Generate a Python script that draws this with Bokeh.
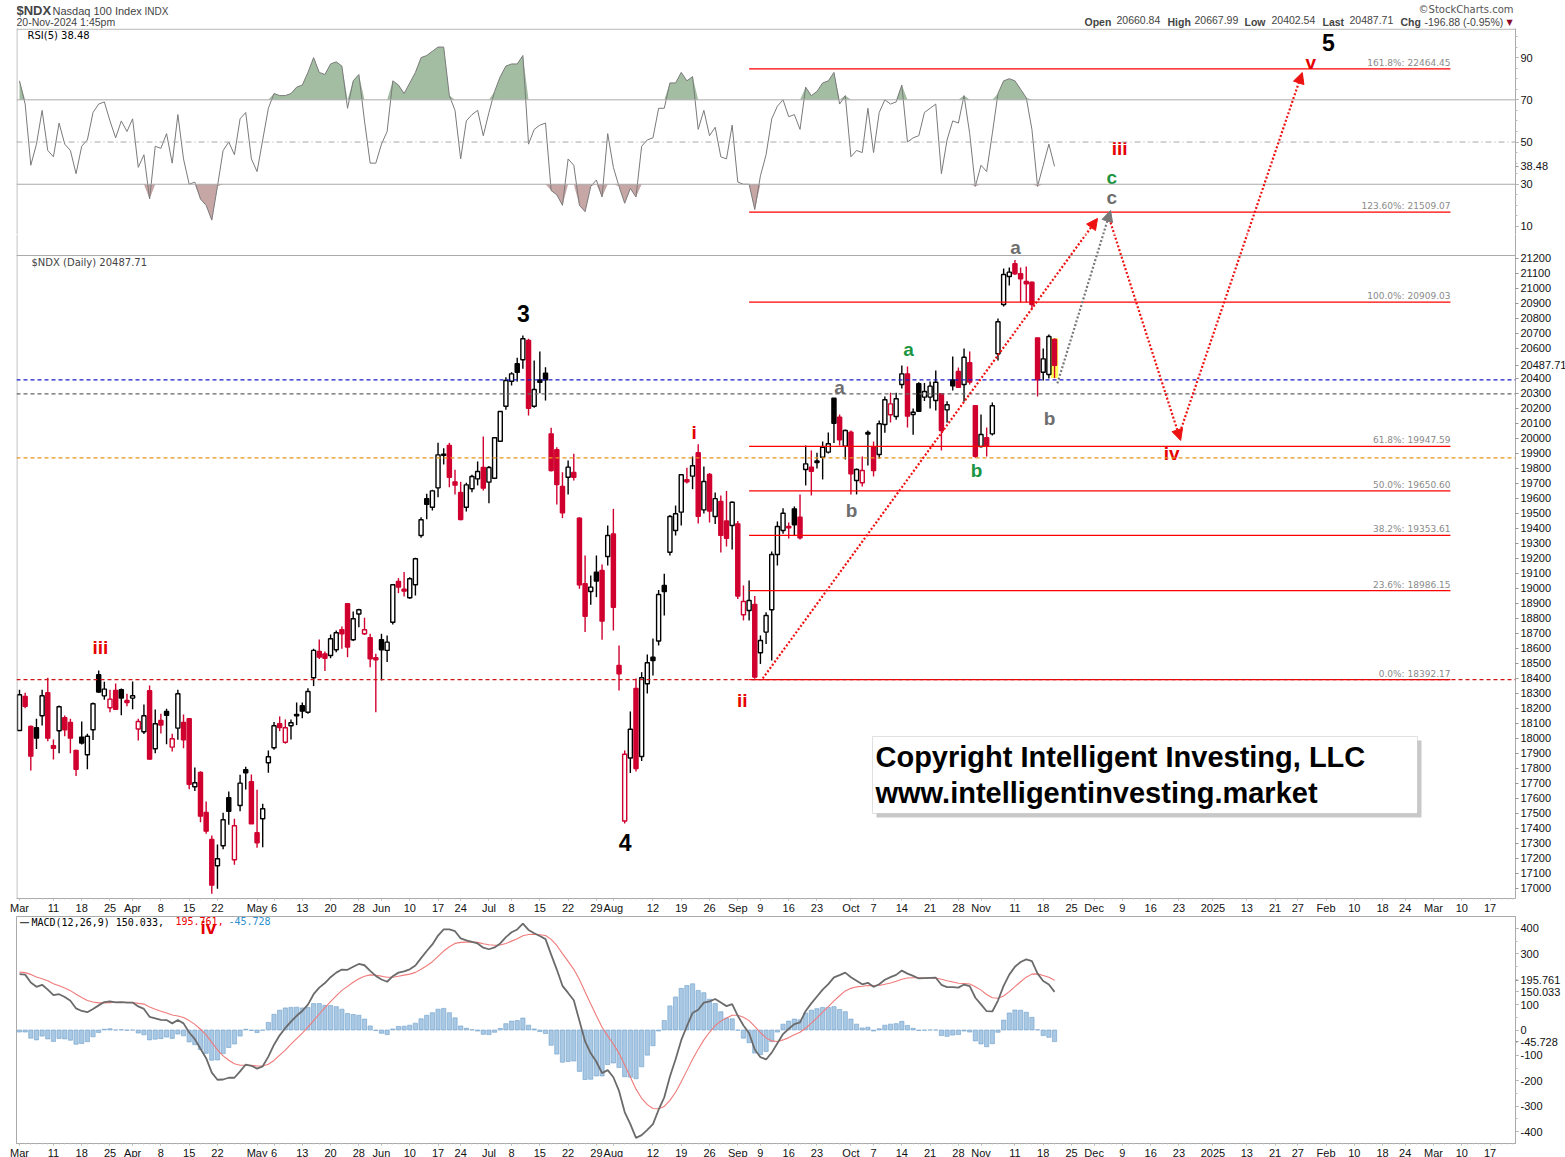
import numpy as np
import pandas as pd
from bokeh.plotting import figure
from bokeh.layouts import column
from bokeh.models import (Range1d, FixedTicker, Label, Span, Arrow, NormalHead,
                          BoxAnnotation, ColumnDataSource)
from bokeh.core.properties import value
from bokeh.embed import file_html
from bokeh.resources import INLINE

# ---------------- calendar (trading days) ----------------
HOLIDAYS = ["2024-03-29", "2024-05-27", "2024-06-19", "2024-07-04", "2024-09-02",
            "2024-11-28", "2024-12-25", "2025-01-01", "2025-01-09", "2025-01-20",
            "2025-02-17"]
cal = pd.bdate_range("2024-03-01", "2025-03-31")
cal = cal[~cal.isin(pd.to_datetime(HOLIDAYS))]
DAY = {d.strftime("%Y-%m-%d"): i for i, d in enumerate(cal)}

# ---------------- daily OHLC, 1-Mar-2024 .. 20-Nov-2024 ----------------
OPEN = [18053, 18280, 18080, 18071, 18151, 18305, 17951, 18051, 18138, 18107,
        17920, 18009, 17891, 18058, 18425, 18284, 18205, 18320, 18325, 18253,
        18269, 18063, 18045, 18318, 17931, 18120, 18180, 17942, 18069, 18107,
        18131, 17678, 17773, 17507, 17327, 17151, 17285, 17605, 17191, 17553,
        17791, 17711, 17371, 17465, 17838, 17938, 18098, 17975, 18085, 18160,
        18218, 18175, 18405, 18580, 18564, 18553, 18591, 18725, 18898, 18658,
        18830, 18698, 18671, 18538, 18658, 18587, 18775, 19047, 18995, 18938,
        19025, 19353, 19598, 19542, 19671, 19888, 19953, 19711, 19640, 19542,
        19665, 19731, 19807, 19709, 19735, 19982, 20215, 20382, 20498, 20525,
        20653, 20215, 20391, 20435, 20031, 19925, 19680, 19742, 19773, 19469,
        19031, 18980, 19109, 19120, 19213, 19364, 18487, 17450, 17870, 18333,
        17880, 18365, 18542, 18650, 19020, 19242, 19387, 19509, 19725, 19749,
        19905, 19524, 19760, 19480, 19580, 19450, 19420, 19431, 18825, 18853,
        18893, 18571, 18709, 18858, 19227, 19387, 19413, 19531, 19475, 19793,
        19809, 19850, 19875, 19909, 20269, 20142, 19949, 20042, 19720, 19705,
        20040, 19942, 19893, 20093, 20158, 20147, 20360, 20431, 20160, 20365,
        20276, 20276, 20253, 20298, 20191, 20390, 20447, 20360, 20505, 20218,
        19947, 20005, 20031, 20565, 20893, 21080, 21165, 21098, 21047, 21042,
        20671, 20442, 20427, 20660.84]
HIGH = [18325, 18305, 18087, 18131, 18325, 18405, 17993, 18220, 18153, 18131,
        17925, 18113, 18031, 18240, 18453, 18378, 18325, 18367, 18333, 18298,
        18380, 18131, 18227, 18353, 18193, 18165, 18198, 18031, 18325, 18160,
        18135, 17807, 17782, 17580, 17353, 17293, 17505, 17647, 17465, 17758,
        17811, 17760, 17658, 17565, 17920, 18109, 18147, 18127, 18127, 18240,
        18240, 18335, 18598, 18660, 18580, 18693, 18720, 18747, 18898, 18847,
        18865, 18805, 18698, 18565, 18698, 18687, 19025, 19069, 19109, 19075,
        19205, 19475, 19631, 19658, 19971, 19935, 19971, 19791, 19711, 19705,
        19758, 19847, 20013, 19816, 20005, 20180, 20409, 20442, 20538, 20687,
        20665, 20520, 20580, 20475, 20071, 19942, 19775, 19853, 19898, 19475,
        19220, 19087, 19220, 19160, 19420, 19531, 18620, 17920, 18180, 18400,
        18442, 18560, 18667, 18990, 19098, 19490, 19553, 19758, 19805, 19880,
        19962, 19813, 19770, 19640, 19620, 19650, 19580, 19450, 19020, 19053,
        18950, 18687, 18842, 19247, 19447, 19535, 19440, 19547, 19627, 19953,
        19920, 19905, 19980, 20040, 20269, 20160, 20060, 20053, 19800, 19880,
        20053, 19980, 20120, 20280, 20305, 20305, 20487, 20480, 20200, 20375,
        20370, 20380, 20453, 20298, 20248, 20547, 20473, 20600, 20580, 20218,
        20160, 20073, 20240, 20800, 21133, 21140, 21190, 21140, 21147, 21045,
        20671, 20600, 20693, 20667.99]
LOW = [18049, 18202, 17787, 17929, 18087, 17982, 17860, 17902, 18015, 17902,
       17749, 17960, 17795, 17989, 18305, 18258, 18175, 18195, 18155, 18215,
       18195, 17987, 18029, 17860, 17902, 18033, 17962, 17913, 17991, 17935,
       17662, 17649, 17442, 17365, 16965, 16998, 17262, 17425, 17158, 17515,
       17660, 17431, 17271, 17275, 17771, 17925, 18049, 17965, 17993, 18089,
       18135, 18165, 18349, 18530, 18449, 18535, 18575, 18598, 18542, 18649,
       18742, 18690, 18475, 18175, 18387, 18509, 18760, 18969, 18947, 18931,
       18953, 19338, 19462, 19520, 19609, 19827, 19675, 19627, 19455, 19513,
       19642, 19687, 19653, 19569, 19729, 19982, 20191, 20353, 20380, 20465,
       20153, 20205, 20302, 20253, 19780, 19560, 19469, 19627, 19720, 18998,
       18709, 18891, 18942, 18658, 19153, 18720, 18320, 17433, 17770, 17780,
       17850, 18300, 18420, 18620, 18820, 19220, 19353, 19420, 19700, 19662,
       19433, 19500, 19440, 19430, 19240, 19280, 19260, 18930, 18787, 18787,
       18398, 18497, 18629, 18520, 19153, 19365, 19333, 19353, 19327, 19687,
       19620, 19800, 19727, 19900, 19970, 19953, 19860, 19627, 19627, 19680,
       19820, 19747, 19867, 20038, 20107, 20125, 20333, 20073, 20025, 20180,
       20250, 20200, 20187, 19920, 20107, 20320, 20340, 20247, 20360, 19870,
       19940, 19880, 20020, 20520, 20880, 21020, 21090, 20907, 20907, 20860,
       20280, 20387, 20400, 20402.54]
CLOSE = [18291, 18215, 17882, 18002, 18285, 18002, 17935, 18211, 18058, 18002,
         17795, 17969, 18015, 18231, 18309, 18329, 18262, 18195, 18269, 18240,
         18285, 18113, 18151, 17862, 18098, 18089, 18155, 17998, 18298, 17991,
         17695, 17705, 17482, 17382, 17022, 17198, 17458, 17515, 17418, 17702,
         17771, 17431, 17305, 17531, 17878, 18085, 18073, 18071, 18105, 18151,
         18182, 18313, 18587, 18542, 18535, 18665, 18705, 18698, 18609, 18798,
         18858, 18725, 18531, 18525, 18591, 18642, 19025, 19009, 18982, 19065,
         19198, 19458, 19562, 19651, 19891, 19896, 19742, 19689, 19460, 19691,
         19747, 19780, 19669, 19807, 20005, 20180, 20387, 20431, 20442, 20665,
         20202, 20327, 20375, 20391, 19787, 19693, 19505, 19809, 19742, 19025,
         18815, 19009, 19049, 18782, 19353, 18875, 18431, 17895, 18061, 17800,
         18405, 18505, 18520, 18960, 18980, 19480, 19498, 19758, 19711, 19818,
         19482, 19713, 19516, 19599, 19354, 19335, 19575, 18949, 18913, 18920,
         18409, 18653, 18820, 19227, 19413, 19502, 19404, 19425, 19338, 19831,
         19782, 19840, 19942, 19965, 20102, 19991, 20053, 19765, 19793, 19787,
         20030, 19787, 20098, 20258, 20231, 20265, 20431, 20149, 20175, 20182,
         20313, 20349, 20375, 20053, 20225, 20352, 20342, 20542, 20376, 19882,
         20027, 19953, 20218, 20778, 21093, 21109, 21098, 21065, 21031, 20893,
         20391, 20531, 20680, 20487.71]

# ---------------- RSI(5) panel values ----------------
RSI = [79, 68, 39, 49, 65, 46, 43, 59, 49, 46, 35, 48, 51, 64, 68, 69, 60, 52, 60, 55,
       61, 38, 44, 23, 48, 47, 54, 40, 63, 42, 30, 31, 23, 20, 13, 29, 46, 50, 44, 61,
       64, 42, 36, 51, 66, 73, 72, 72, 73, 76, 77, 83, 90, 83, 82, 87, 88, 86, 66, 79,
       82, 60, 40, 40, 49, 55, 79, 77, 73, 78, 83, 90, 91, 93, 95, 95, 72, 65, 42, 60,
       63, 65, 53, 64, 74, 81, 86, 87, 87, 91, 49, 56, 58, 59, 27, 25, 20, 42, 39, 20,
       17, 29, 32, 24, 54, 38, 29, 21, 28, 24, 48, 51, 52, 66, 66, 78, 78, 83, 79, 81,
       56, 65, 53, 57, 43, 42, 58, 31, 30, 30, 18, 34, 44, 61, 67, 70, 62, 63, 56, 76,
       72, 74, 78, 79, 83, 68, 72, 43, 46, 45, 66, 45, 64, 70, 68, 69, 77, 50, 52, 53,
       64, 66, 68, 35, 51, 60, 59, 72, 54, 29, 39, 36, 54, 73, 79, 80, 79, 75, 71, 56,
       29, 39, 49, 38.48]

# ---------------- MACD(12,26,9) panel values ----------------
MACD = [220, 218, 187, 170, 178, 159, 137, 141, 130, 115, 85, 75, 70, 83, 97, 110, 113,
        109, 110, 108, 108, 93, 83, 52, 46, 40, 39, 26, 39, 26, -10, -36, -74, -111,
        -168, -196, -195, -188, -188, -163, -136, -141, -152, -143, -105, -58, -21, 8,
        33, 56, 75, 100, 141, 167, 185, 208, 226, 238, 237, 249, 260, 255, 233, 213,
        199, 190, 212, 226, 231, 239, 254, 283, 311, 337, 372, 396, 396, 389, 361, 353,
        347, 341, 324, 318, 325, 341, 366, 385, 396, 419, 394, 381, 370, 358, 297, 238,
        174, 146, 117, 36, -45, -92, -125, -170, -158, -186, -240, -323, -371, -425,
        -414, -393, -371, -314, -265, -183, -115, -40, 15, 67, 80, 108, 113, 122, 108,
        94, 102, 56, 18, -13, -77, -107, -116, -89, -52, -16, 5, 23, 30, 75, 105, 132,
        159, 181, 207, 216, 226, 208, 194, 180, 186, 170, 180, 198, 208, 217, 234, 222,
        213, 203, 204, 205, 206, 178, 169, 169, 167, 179, 173, 127, 101, 74, 73, 116,
        174, 218, 249, 268, 278, 271, 222, 193, 179, 150.033]
SIGNAL = [228, 226, 219, 209, 202, 194, 182, 174, 165, 155, 141, 128, 116, 110, 107, 107,
          108, 109, 109, 109, 108, 105, 102, 91, 82, 74, 67, 59, 55, 49, 37, 22, 3, -19,
          -49, -78, -102, -119, -133, -139, -139, -139, -142, -142, -135, -120, -99, -79,
          -56, -34, -12, 11, 37, 63, 88, 112, 134, 156, 172, 188, 202, 212, 217, 215,
          212, 208, 208, 212, 216, 220, 227, 239, 253, 269, 290, 311, 328, 341, 345, 346,
          346, 345, 340, 336, 334, 335, 341, 350, 359, 371, 376, 377, 375, 372, 357, 333,
          301, 270, 239, 199, 150, 102, 56, 11, -23, -55, -92, -138, -185, -233, -269,
          -294, -309, -310, -301, -277, -245, -204, -160, -115, -76, -39, -9, 17, 35, 47,
          58, 58, 50, 37, 14, -10, -31, -43, -45, -39, -30, -19, -9, 7, 27, 48, 70, 92,
          115, 135, 154, 164, 170, 172, 175, 174, 175, 180, 185, 192, 200, 205, 206, 206,
          205, 205, 205, 200, 194, 189, 184, 183, 181, 170, 157, 140, 127, 125, 134, 151,
          171, 190, 208, 220, 221, 215, 208, 195.761]
HIST = [-8, -8, -32, -39, -24, -35, -45, -33, -35, -40, -56, -53, -46, -27, -10, 3, 5, 0,
        1, -1, 0, -12, -19, -39, -36, -34, -28, -33, -16, -23, -47, -58, -77, -92, -119,
        -118, -93, -69, -55, -24, 3, -2, -10, -1, 30, 62, 78, 87, 89, 90, 87, 89, 104,
        104, 97, 96, 92, 82, 65, 61, 58, 43, 16, -2, -13, -18, 4, 14, 15, 19, 27, 44, 58,
        68, 82, 85, 68, 48, 16, 7, 1, -4, -17, -18, -9, 6, 25, 35, 37, 47, 19, 4, -6,
        -14, -60, -95, -127, -124, -122, -163, -195, -194, -181, -181, -136, -130, -148,
        -184, -186, -192, -145, -99, -62, -4, 37, 95, 130, 164, 175, 182, 156, 147, 121,
        104, 72, 47, 44, -1, -32, -50, -91, -97, -85, -46, -8, 23, 35, 43, 40, 67, 78,
        84, 89, 89, 92, 81, 72, 43, 23, 8, 11, -4, 5, 19, 23, 25, 34, 18, 7, -2, -1, 0,
        0, -22, -25, -20, -18, -4, -8, -43, -55, -66, -54, -9, 39, 67, 79, 78, 70, 50, 1,
        -22, -29, -45.728]

# ---------------- axis ticks ----------------
TICK_DATES = ["2024-03-01", "2024-03-11", "2024-03-18", "2024-03-25", "2024-04-01", "2024-04-08",
              "2024-04-15", "2024-04-22", "2024-05-01", "2024-05-06", "2024-05-13", "2024-05-20",
              "2024-05-28", "2024-06-03", "2024-06-10", "2024-06-17", "2024-06-24", "2024-07-01",
              "2024-07-08", "2024-07-15", "2024-07-22", "2024-07-29", "2024-08-01", "2024-08-12",
              "2024-08-19", "2024-08-26", "2024-09-03", "2024-09-09", "2024-09-16", "2024-09-23",
              "2024-10-01", "2024-10-07", "2024-10-14", "2024-10-21", "2024-10-28", "2024-11-01",
              "2024-11-11", "2024-11-18", "2024-11-25", "2024-12-02", "2024-12-09", "2024-12-16",
              "2024-12-23", "2025-01-02", "2025-01-13", "2025-01-21", "2025-01-27", "2025-02-03",
              "2025-02-10", "2025-02-18", "2025-02-24", "2025-03-03", "2025-03-10", "2025-03-17"]
TICK_LABELS = ["Mar", "11", "18", "25", "Apr", "8", "15", "22", "May", "6", "13", "20", "28",
               "Jun", "10", "17", "24", "Jul", "8", "15", "22", "29", "Aug", "12", "19", "26",
               "Sep", "9", "16", "23", "Oct", "7", "14", "21", "28", "Nov", "11", "18", "25",
               "Dec", "9", "16", "23", "2025", "13", "21", "27", "Feb", "10", "18", "24",
               "Mar", "10", "17"]
PRICE_TICKS = [v for v in range(17000, 21201, 100) if v != 20500]
RSI_TICKS = [10, 30, 50, 70, 90]
MACD_TICKS = [-400, -300, -200, -100, 0, 100, 300, 400]
LAST_RSI_TXT, LAST_PRICE_TXT = "38.48", "20487.71"
LAST_MACD = [195.761, 150.033, -45.728]

# ---------------- annotations ----------------
FIB_PCT = ["161.8%", "123.60%", "100.0%", "61.8%", "50.0%", "38.2%", "23.6%", "0.0%"]
FIB_LEVEL = [22464.45, 21509.07, 20909.03, 19947.59, 19650.60, 19353.61, 18986.15, 18392.17]
FIB_FROM, FIB_TO = "2024-09-05", "2025-03-06"
REF_LEVELS = [20391, 20298, 19871, 18392.17]
REF_COLORS = ["#1a1acc", "#666666", "#e8961e", "#d01414"]

WAVE_TEXT = ["3", "4", "5", "iii", "iv", "i", "ii", "iii", "iv", "v",
             "a", "b", "a", "b", "c", "a", "b", "c"]
WAVE_X = [89.1, 107.1, 231.4, 14.3, 33.4, 119.3, 127.8, 194.5, 203.7, 228.3,
          145.0, 147.1, 176.1, 182.1, 193.1, 157.2, 169.2, 193.1]
WAVE_Y = [20833, 17306, 22640, 18607, 16760, 20040, 18253, 21933, 19900, 22507,
          20340, 19520, 21273, 20133, 21607, 20593, 19787, 21740]
WAVE_COLOR = ["#000000"] * 3 + ["#e60000"] * 7 + ["#6e6e6e"] * 5 + ["#1a9641"] * 3
WAVE_SIZE = ["23px"] * 3 + ["19px"] * 15

ARROW_X0 = [131.4, 183.5, 192.9, 205.4]
ARROW_Y0 = [18400, 20367, 21440, 20067]
ARROW_X1 = [190.6, 192.9, 205.3, 226.8]
ARROW_Y1 = [21467, 21520, 19987, 22440]
ARROW_COLOR = ["#ee1111", "#777777", "#ee1111", "#ee1111"]

# ---------------- geometry ----------------
FW = 1499
XR = Range1d(-0.53, 264.5)
RSI_RANGE = (6.19, 103.8)          # RSI frame: page rows 28..234
RANGE_PRICE_RSI = (21360, 22733)   # price scale continued over the RSI frame
RANGE_PRICE_MAIN = (16933, 21360)  # price frame: page rows 234..898 (panel edge at 21220)
RANGE_PRICE_MACD = (15320, 16833)
PANEL_EDGE = 21220
AX_FONT = "Liberation Sans"
BORDER = "#aaaaaa"


def make_fig(h, yr, xaxis=True, yaxis=True):
    f = figure(frame_width=FW, frame_height=h, x_range=XR, y_range=Range1d(*yr),
               output_backend="svg", toolbar_location=None,
               x_axis_location="below" if xaxis else None,
               y_axis_location="right" if yaxis else None,
               min_border_left=16, min_border_right=50, min_border_top=0,
               min_border_bottom=0)
    f.outline_line_color = BORDER
    f.grid.visible = False
    f.background_fill_color = "white"
    f.border_fill_color = "white"
    return f


def fmt(v):
    return f"{v:g}" if float(v).is_integer() else f"{v}"


def style_yaxis(ax, ticks, minor, extra_labels):
    allt = list(ticks) + [v for v, _ in extra_labels]
    ax.ticker = FixedTicker(ticks=allt, minor_ticks=minor)
    ov = {t: fmt(t) for t in ticks}
    ov.update({v: s for v, s in extra_labels})
    ax.major_label_overrides = ov
    ax.axis_line_color = BORDER
    ax.major_tick_line_color = "#999999"
    ax.major_tick_in = 0
    ax.major_tick_out = 3
    ax.minor_tick_line_color = "#bbbbbb"
    ax.minor_tick_in = 0
    ax.minor_tick_out = 2
    ax.major_label_text_font = AX_FONT
    ax.major_label_text_font_size = "11px"
    ax.major_label_text_color = "#111111"
    ax.major_label_standoff = 2


def style_xaxis(f):
    ax = f.xaxis[0]
    tix = [DAY[d] for d in TICK_DATES]
    ax.ticker = FixedTicker(ticks=tix, minor_ticks=list(range(0, 265)))
    ax.major_label_overrides = {t: lab for t, lab in zip(tix, TICK_LABELS)}
    ax.axis_line_color = BORDER
    ax.major_tick_line_color = BORDER
    ax.major_tick_in = 0
    ax.major_tick_out = 2
    ax.minor_tick_line_color = "#cccccc"
    ax.minor_tick_in = 0
    ax.minor_tick_out = 1
    ax.major_label_text_font = AX_FONT
    ax.major_label_text_font_size = "11px"
    ax.major_label_text_color = "#111111"
    ax.major_label_standoff = 1


def add_overlays(f, rname, lo, hi, arrows=True):
    kw = {} if rname == "default" else {"y_range_name": rname}
    x0 = DAY[FIB_FROM]
    x1 = DAY[FIB_TO]
    lv = [v for v in FIB_LEVEL if lo < v < hi]
    pc = [p for p, v in zip(FIB_PCT, FIB_LEVEL) if lo < v < hi]
    if lv:
        fib = ColumnDataSource(dict(x0=[x0] * len(lv), x1=[x1] * len(lv), y=lv,
                                    t=[f"{p}: {v:.2f}" for p, v in zip(pc, lv)]))
        f.segment(x0="x0", y0="y", x1="x1", y1="y", source=fib, line_color="#ff0000",
                  line_width=1.2, **kw)
        f.text(x="x1", y="y", text="t", source=fib, text_align="right",
               text_baseline="bottom", y_offset=-1, text_font=value("DejaVu Sans"),
               text_font_size="9px", text_color="#8a8a8a", **kw)
    if arrows:
        for xa, ya, xb, yb, col in zip(ARROW_X0, ARROW_Y0, ARROW_X1, ARROW_Y1, ARROW_COLOR):
            f.add_layout(Arrow(x_start=xa, y_start=ya, x_end=xb, y_end=yb, line_color=col,
                               line_width=2.2, line_dash="2 2",
                               end=NormalHead(size=11, fill_color=col, line_color=col),
                               **kw))
    sel = [i for i, y in enumerate(WAVE_Y) if lo < y < hi]
    if sel:
        wv = ColumnDataSource(dict(x=[WAVE_X[i] for i in sel], y=[WAVE_Y[i] for i in sel],
                                   t=[WAVE_TEXT[i] for i in sel],
                                   c=[WAVE_COLOR[i] for i in sel],
                                   s=[WAVE_SIZE[i] for i in sel]))
        f.text(x="x", y="y", text="t", source=wv, text_color="c", text_font_size="s",
               text_font=value("Liberation Sans"), text_font_style="bold",
               text_align="center", text_baseline="middle", **kw)


X = list(range(len(CLOSE)))

# ================= header strip =================
ph = make_fig(28, (0, 28), xaxis=False, yaxis=False)
ph.outline_line_color = None
hdr = dict(x_units="screen", y_units="screen", text_baseline="top")
ph.add_layout(Label(x=0, y=25.5, text="$NDX", text_font="Liberation Sans",
                    text_font_style="bold", text_font_size="13px", **hdr))
ph.add_layout(Label(x=36, y=24, text="Nasdaq 100 Index", text_font="Liberation Sans",
                    text_font_size="11px", **hdr))
ph.add_layout(Label(x=128, y=23, text="INDX", text_font="Liberation Sans",
                    text_font_size="10px", **hdr))
ph.add_layout(Label(x=0, y=12.2, text="20-Nov-2024 1:45pm", text_font="Liberation Sans",
                    text_font_size="10.5px", **hdr))
ph.add_layout(Label(x=1497, y=25, text="\u00a9StockCharts.com", text_align="right",
                    text_font="DejaVu Sans", text_font_size="10px", text_color="#555555",
                    **hdr))
OHLC_TXT = ["Open", "20660.84", "High", "20667.99", "Low", "20402.54", "Last", "20487.71",
            "Chg", "-196.88 (-0.95%)"]
OHLC_PX = [1084, 1116, 1167, 1194, 1244, 1271, 1322, 1349, 1400, 1424]
for i, (t, px) in enumerate(zip(OHLC_TXT, OHLC_PX)):
    ph.add_layout(Label(x=px - 16, y=12.2, text=t, text_font="Liberation Sans",
                        text_font_style="bold" if i % 2 == 0 else "normal",
                        text_font_size="10.5px", **hdr))
ph.add_layout(Label(x=1490, y=11, text="\u25bc", text_font="DejaVu Sans",
                    text_font_size="8px", text_color="#8b0a2a", **hdr))

# ================= RSI panel =================
prsi = make_fig(206, RSI_RANGE, xaxis=False)
prsi.outline_line_color = None
prsi.extra_y_ranges = {"price": Range1d(*RANGE_PRICE_RSI)}
style_yaxis(prsi.yaxis[0], RSI_TICKS, list(range(10, 101, 5)),
            [(float(LAST_RSI_TXT), LAST_RSI_TXT)])
prsi.add_layout(Span(location=103.5, dimension="width", line_color=BORDER, line_width=1))
prsi.add_layout(Span(location=-0.45, dimension="height", line_color=BORDER, line_width=1))
rs = np.array(RSI, dtype=float)
prsi.varea(x=X, y1=np.maximum(rs, 70), y2=70, fill_color="#a3bda3")
prsi.varea(x=X, y1=np.minimum(rs, 30), y2=30, fill_color="#c7a6a6")
for lv, dash in [(70, "solid"), (30, "solid"), (50, "6 3 1 3")]:
    prsi.add_layout(Span(location=lv, dimension="width", line_color=BORDER,
                         line_width=1, line_dash=dash))
prsi.line(X, RSI, line_color="#7a7a7a", line_width=1)
add_overlays(prsi, "price", *RANGE_PRICE_RSI)
prsi.add_layout(Label(x=11, y=205, x_units="screen", y_units="screen",
                      text="RSI(5) " + LAST_RSI_TXT, text_baseline="top",
                      text_font="DejaVu Sans", text_font_size="10px", text_color="#000000"))

# ================= price panel =================
pp = make_fig(664, RANGE_PRICE_MAIN)
pp.outline_line_color = None
style_yaxis(pp.yaxis[0], PRICE_TICKS, [], [(float(LAST_PRICE_TXT), LAST_PRICE_TXT)])
style_xaxis(pp)
pp.add_layout(Span(location=PANEL_EDGE, dimension="width", line_color=BORDER, line_width=1))
pp.add_layout(Span(location=-0.45, dimension="height", line_color=BORDER, line_width=1))
for lv, col in zip(REF_LEVELS, REF_COLORS):
    pp.add_layout(Span(location=lv, dimension="width", line_color=col, line_width=1.2,
                       line_dash="4 3"))
o, h, l, c = (np.array(a, dtype=float) for a in (OPEN, HIGH, LOW, CLOSE))
prev = np.r_[o[0], c[:-1]]
col = np.where(c >= prev, "#000000", "#d0002f")
fill = np.where(c > o, "#ffffff", col)
src = ColumnDataSource(dict(x=X, h=h, l=l, top=np.maximum(o, c), bot=np.minimum(o, c),
                            col=col, fill=fill))
pp.vbar(x=[X[-1]], width=1.3, top=[h[-1]], bottom=[l[-1]], fill_color="#ffff55",
        line_color=None)
pp.segment(x0="x", y0="h", x1="x", y1="l", source=src, line_color="col", line_width=1.4)
pp.vbar(x="x", width=0.72, top="top", bottom="bot", fill_color="fill", line_color="col",
        line_width=1.4, source=src)
add_overlays(pp, "default", *RANGE_PRICE_MAIN)
pp.add_layout(Label(x=15, y=642, x_units="screen", y_units="screen",
                    text="$NDX (Daily) " + LAST_PRICE_TXT, text_baseline="top",
                    text_font="DejaVu Sans", text_font_size="10px"))
# copyright box
pp.add_layout(BoxAnnotation(left=860, right=1405, top=158, bottom=81, left_units="screen",
                            right_units="screen", top_units="screen", bottom_units="screen",
                            fill_color="#c8c8c8", fill_alpha=1, line_color=None))
pp.add_layout(BoxAnnotation(left=856, right=1401, top=162, bottom=85, left_units="screen",
                            right_units="screen", top_units="screen", bottom_units="screen",
                            fill_color="white", fill_alpha=1, line_color="#999999",
                            line_width=1))
for t, yy in [("Copyright Intelligent Investing, LLC", 142),
              ("www.intelligentinvesting.market", 106)]:
    pp.add_layout(Label(x=859, y=yy, x_units="screen", y_units="screen", text=t,
                        text_baseline="alphabetic", text_font="Liberation Sans",
                        text_font_style="bold", text_font_size="29px",
                        text_color="#000000"))

# ================= MACD panel =================
pm = make_fig(227, (-447, 447))
pm.extra_y_ranges = {"price": Range1d(*RANGE_PRICE_MACD)}
style_yaxis(pm.yaxis[0], MACD_TICKS, list(range(-450, 451, 50)),
            [(v, f"{v:.3f}") for v in LAST_MACD])
style_xaxis(pm)
pm.vbar(x=X, width=0.75, top=HIST, bottom=0, fill_color="#a8c8e3", line_color="#6f9fcb",
        line_width=0.6)
pm.line(X, SIGNAL, line_color="#f07a7a", line_width=1.1)
pm.line(X, MACD, line_color="#6b6b6b", line_width=1.8)
add_overlays(pm, "price", *RANGE_PRICE_MACD, arrows=False)
pm.add_layout(Label(x=3, y=227, x_units="screen", y_units="screen", text="\u2014",
                    text_baseline="top", text_font="DejaVu Sans", text_font_style="bold",
                    text_font_size="10px"))
for t, px, cc in [("MACD(12,26,9) 150.033,", 31, "#000000"), ("195.761,", 175, "#ee0000"),
                  ("-45.728", 228, "#2a8fd0")]:
    pm.add_layout(Label(x=px - 16, y=227, x_units="screen", y_units="screen", text=t,
                        text_baseline="top", text_font="DejaVu Sans Mono",
                        text_font_size="10px", text_color=cc))

layout = column(ph, prsi, pp, pm, spacing=0)
open("out.html", "w").write(file_html(layout, INLINE))
